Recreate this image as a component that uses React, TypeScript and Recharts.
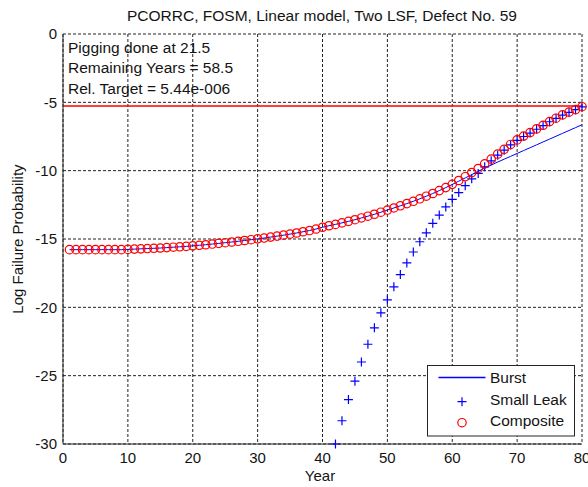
import React from 'react';
import { LineChart, Line, XAxis, YAxis, CartesianGrid, ReferenceLine } from 'recharts';

const years = [
  1, 2, 3, 4, 5, 6, 7, 8, 9, 10, 11, 12, 13, 14, 15, 16, 17, 18, 19, 20,
  21, 22, 23, 24, 25, 26, 27, 28, 29, 30, 31, 32, 33, 34, 35, 36, 37, 38, 39, 40,
  41, 42, 43, 44, 45, 46, 47, 48, 49, 50, 51, 52, 53, 54, 55, 56, 57, 58, 59, 60,
  61, 62, 63, 64, 65, 66, 67, 68, 69, 70, 71, 72, 73, 74, 75, 76, 77, 78, 79, 80,
];

const burst = [
  -15.78, -15.78, -15.78, -15.78, -15.78, -15.78, -15.78, -15.78, -15.78, -15.76,
  -15.74, -15.72, -15.7, -15.68, -15.66, -15.63, -15.6, -15.57, -15.54, -15.5,
  -15.46, -15.42, -15.37, -15.32, -15.27, -15.22, -15.17, -15.11, -15.05, -14.99,
  -14.93, -14.86, -14.79, -14.72, -14.64, -14.56, -14.47, -14.38, -14.27, -14.14,
  -14.03, -13.93, -13.82, -13.71, -13.59, -13.46, -13.33, -13.19, -13.04, -12.88,
  -12.73, -12.57, -12.41, -12.24, -12.06, -11.87, -11.67, -11.46, -11.24, -11.01,
  -10.77, -10.53, -10.29, -10.05, -9.81, -9.59, -9.37, -9.16, -8.95, -8.74,
  -8.53, -8.32, -8.11, -7.9, -7.69, -7.48, -7.27, -7.06, -6.85, -6.64,
];

const smallLeak = [
  null, null, null, null, null, null, null, null, null, null,
  null, null, null, null, null, null, null, null, null, null,
  null, null, null, null, null, null, null, null, null, null,
  null, null, null, null, null, null, null, null, null, null,
  null, -30.0, -28.3, -26.75, -25.4, -24.0, -22.7, -21.5, -20.4, -19.45,
  -18.5, -17.6, -16.75, -15.95, -15.2, -14.55, -13.85, -13.25, -12.65, -12.1,
  -11.6, -11.1, -10.6, -10.2, -9.72, -9.28, -8.87, -8.5, -8.12, -7.78,
  -7.5, -7.25, -6.97, -6.7, -6.42, -6.17, -5.93, -5.73, -5.54, -5.33,
];

const composite = [
  -15.78, -15.78, -15.78, -15.78, -15.78, -15.78, -15.78, -15.78, -15.78, -15.76,
  -15.74, -15.72, -15.7, -15.68, -15.66, -15.63, -15.6, -15.57, -15.54, -15.5,
  -15.46, -15.42, -15.37, -15.32, -15.27, -15.22, -15.17, -15.11, -15.05, -14.99,
  -14.93, -14.86, -14.79, -14.72, -14.64, -14.56, -14.47, -14.38, -14.27, -14.14,
  -14.03, -13.93, -13.82, -13.71, -13.59, -13.46, -13.33, -13.19, -13.04, -12.88,
  -12.73, -12.57, -12.41, -12.24, -12.06, -11.87, -11.67, -11.46, -11.24, -11.0,
  -10.72, -10.44, -10.14, -9.84, -9.5, -9.15, -8.79, -8.44, -8.08, -7.75,
  -7.47, -7.21, -6.94, -6.68, -6.41, -6.16, -5.92, -5.72, -5.53, -5.32,
];

const relTarget = -5.26;
const xTicks = [0, 10, 20, 30, 40, 50, 60, 70, 80];
const yTicks = [-30, -25, -20, -15, -10, -5, 0];

const titleText = 'PCORRC, FOSM, Linear model, Two LSF, Defect No. 59';
const notes = ['Pigging done at 21.5', 'Remaining Years = 58.5', 'Rel. Target = 5.44e-006'];
const seriesNames = ['Burst', 'Small Leak', 'Composite'];

const data = years.map((y, i) => ({
  year: y,
  burst: burst[i],
  leak: smallLeak[i],
  composite: composite[i],
}));

const FONT = '"Liberation Sans", Arial, sans-serif';
const BLUE = '#0000ff';
const RED = '#ff0000';
const AXIS = '#262626';
const TEXT = '#141414';

const PlusDot = (props: any) => {
  const { cx, cy, index } = props;
  if (cx == null || cy == null || Number.isNaN(cy)) return <g key={`p${index}`} />;
  const a = 4.5;
  return (
    <path
      key={`p${index}`}
      d={`M${cx - a},${cy}H${cx + a}M${cx},${cy - a}V${cy + a}`}
      stroke={BLUE}
      strokeWidth={1.2}
      fill="none"
    />
  );
};

const CircleDot = (props: any) => {
  const { cx, cy, index } = props;
  if (cx == null || cy == null || Number.isNaN(cy)) return <g key={`c${index}`} />;
  return <circle key={`c${index}`} cx={cx} cy={cy} r={4.2} stroke={RED} strokeWidth={1.2} fill="none" />;
};

export default function App() {
  return (
    <div style={{ position: 'absolute', left: 0, top: 0, width: 588, height: 487, background: '#fff', fontFamily: FONT }}>
      <LineChart
        width={588}
        height={487}
        data={data}
        margin={{ top: 34, right: 6, bottom: 0, left: 0 }}
        style={{ position: 'absolute', left: 0, top: 0 }}
      >
        <CartesianGrid stroke="#222" strokeDasharray="3 2" strokeWidth={1} />
        <XAxis
          dataKey="year"
          type="number"
          domain={[0, 80]}
          ticks={xTicks}
          height={43}
          tickLine={false}
          tickSize={5}
          tickMargin={3}
          axisLine={{ stroke: AXIS, strokeWidth: 1 }}
          tick={{ fill: TEXT, fontSize: 15, fontFamily: FONT }}
          interval={0}
        />
        <YAxis
          type="number"
          domain={[-30, 0]}
          ticks={yTicks}
          width={63}
          tickLine={false}
          tickSize={4}
          tickMargin={2}
          axisLine={{ stroke: AXIS, strokeWidth: 1 }}
          tick={{ fill: TEXT, fontSize: 15, fontFamily: FONT }}
          interval={0}
        />
        <ReferenceLine y={relTarget} stroke={RED} strokeWidth={1.5} />
        <Line
          dataKey="burst"
          stroke={BLUE}
          strokeWidth={1}
          dot={false}
          activeDot={false}
          isAnimationActive={false}
        />
        <Line
          dataKey="leak"
          stroke="none"
          dot={PlusDot}
          activeDot={false}
          isAnimationActive={false}
        />
        <Line
          dataKey="composite"
          stroke="none"
          dot={CircleDot}
          activeDot={false}
          isAnimationActive={false}
        />
      </LineChart>
      <svg
        width={588}
        height={487}
        style={{ position: 'absolute', left: 0, top: 0, pointerEvents: 'none' }}
        fontFamily={FONT}
      >
        <text x={322} y={21} textAnchor="middle" fontSize={15.5} fill={TEXT}>
          {titleText}
        </text>
        {notes.map((t, i) => (
          <text key={t} x={68} y={52.5 + i * 20.5} fontSize={15.5} fill={TEXT}>
            {t}
          </text>
        ))}
        <text x={320} y={481} textAnchor="middle" fontSize={15} fill={TEXT}>
          Year
        </text>
        <text
          x={0}
          y={0}
          transform="translate(23,239) rotate(-90)"
          textAnchor="middle"
          fontSize={15}
          fill={TEXT}
        >
          Log Failure Probability
        </text>
        <g transform="translate(427.5,365.5)">
          <rect x={0} y={0} width={147} height={70.5} fill="#fff" stroke={AXIS} strokeWidth={1} />
          <path d="M11,12H58" stroke="#0000ff" strokeWidth={1.4} fill="none" />
          <path d="M30,36.2H39M34.5,31.7V40.7" stroke={BLUE} strokeWidth={1.2} fill="none" />
          <circle cx={34.5} cy={57.2} r={4.2} stroke={RED} strokeWidth={1.2} fill="none" />
          {seriesNames.map((n, i) => (
            <text key={n} x={62.5} y={17.5 + i * 21.5} fontSize={15.5} fill={TEXT}>
              {n}
            </text>
          ))}
        </g>
      </svg>
    </div>
  );
}
